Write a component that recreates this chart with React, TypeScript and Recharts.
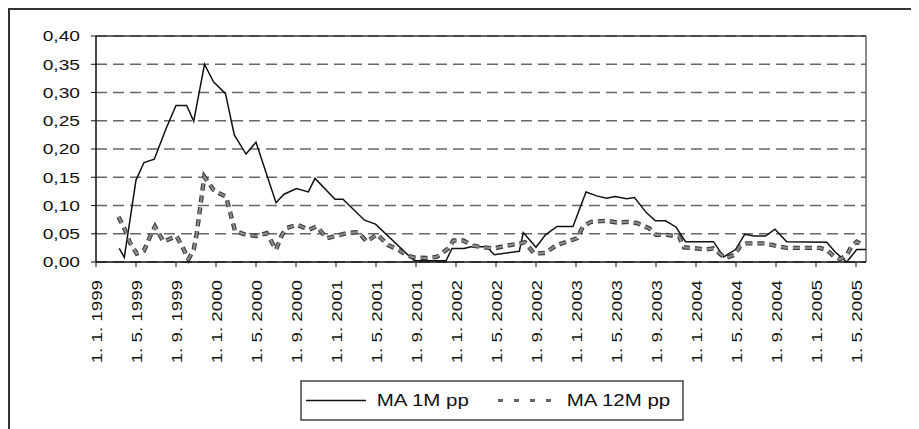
import React from 'react';
import { LineChart, Line, XAxis, YAxis, CartesianGrid, ReferenceLine } from 'recharts';

// Tick labels on the date axis (every 4 months, starting 1. 1. 1999)
const tickLabels = [
  '1. 1. 1999', '1. 5. 1999', '1. 9. 1999',
  '1. 1. 2000', '1. 5. 2000', '1. 9. 2000',
  '1. 1. 2001', '1. 5. 2001', '1. 9. 2001',
  '1. 1. 2002', '1. 5. 2002', '1. 9. 2002',
  '1. 1. 2003', '1. 5. 2003', '1. 9. 2003',
  '1. 1. 2004', '1. 5. 2004', '1. 9. 2004',
  '1. 1. 2005', '1. 5. 2005',
];
const tickMonths = [0, 4, 8, 12, 16, 20, 24, 28, 32, 36, 40, 44, 48, 52, 56, 60, 64, 68, 72, 76];
const yTicks = [0, 0.05, 0.1, 0.15, 0.2, 0.25, 0.3, 0.35, 0.4];

// MA 1M pp  (x = months since 1. 1. 1999)
const ma1mMonths = [
  2.33, 2.83, 4.0, 4.8, 5.83, 7.0, 8.0, 9.07, 9.77, 10.85,
  11.75, 12.95, 13.83, 15.0, 16.0, 18.0, 18.8, 20.05, 21.23, 21.9,
  23.9, 24.7, 26.85, 27.95, 31.83, 35.0, 35.6, 36.8, 37.5, 39.07,
  39.83, 42.33, 42.73, 44.0, 44.95, 46.1, 47.7, 49.0, 50.07, 51.05,
  51.9, 53.07, 53.85, 55.05, 55.95, 56.95, 58.0, 58.95, 61.75, 62.77,
  63.95, 64.87, 65.8, 66.95, 67.9, 69.07, 73.07, 73.9, 75.07, 76.07,
  77.0,
];
const ma1mValues = [
  0.024, 0.008, 0.145, 0.176, 0.182, 0.236, 0.277, 0.277, 0.249, 0.350,
  0.319, 0.298, 0.225, 0.191, 0.212, 0.105, 0.120, 0.130, 0.124, 0.148,
  0.111, 0.111, 0.074, 0.067, 0.002, 0.002, 0.024, 0.024, 0.027, 0.027,
  0.013, 0.019, 0.052, 0.026, 0.048, 0.063, 0.063, 0.124, 0.117, 0.113,
  0.116, 0.112, 0.114, 0.087, 0.073, 0.073, 0.062, 0.036, 0.036, 0.009,
  0.022, 0.049, 0.046, 0.046, 0.058, 0.036, 0.035, 0.018, 0.000, 0.022,
  0.022,
];

// MA 12M pp
const ma12mMonths = [
  2.25, 2.9, 3.4, 4.07, 4.8, 5.4, 5.9, 6.75, 8.05, 8.75,
  9.25, 9.77, 10.07, 10.83, 11.75, 12.5, 13.0, 13.9, 15.0, 16.03,
  17.07, 18.0, 18.6, 19.07, 20.1, 21.3, 22.07, 23.07, 24.0, 25.07,
  26.23, 27.07, 28.1, 29.2, 30.3, 31.07, 31.8, 33.07, 34.07, 35.23,
  35.73, 36.73, 37.7, 38.73, 39.8, 41.07, 42.2, 42.9, 43.8, 44.9,
  46.1, 47.6, 48.1, 48.7, 49.5, 51.07, 52.07, 53.2, 54.07, 55.3,
  56.0, 57.1, 58.3, 58.8, 60.07, 61.0, 61.73, 62.5, 62.95, 63.9,
  64.4, 65.07, 66.9, 68.1, 69.07, 72.4, 73.1, 73.8, 74.4, 75.07,
  75.5, 76.07, 76.6,
];
const ma12mValues = [
  0.080, 0.057, 0.034, 0.015, 0.020, 0.045, 0.063, 0.036, 0.046, 0.023,
  0.005, 0.022, 0.050, 0.151, 0.128, 0.120, 0.116, 0.055, 0.048, 0.046,
  0.051, 0.022, 0.048, 0.060, 0.066, 0.057, 0.063, 0.042, 0.046, 0.051,
  0.053, 0.036, 0.049, 0.030, 0.021, 0.012, 0.008, 0.007, 0.009, 0.024,
  0.038, 0.038, 0.029, 0.026, 0.024, 0.029, 0.032, 0.035, 0.015, 0.016,
  0.030, 0.039, 0.042, 0.063, 0.071, 0.073, 0.070, 0.071, 0.069, 0.060,
  0.048, 0.048, 0.045, 0.026, 0.024, 0.022, 0.024, 0.013, 0.007, 0.013,
  0.028, 0.033, 0.033, 0.028, 0.025, 0.025, 0.021, 0.010, 0.005, 0.012,
  0.026, 0.036, 0.031,
];

const ma1mData = ma1mMonths.map((m, i) => ({ m, v: ma1mValues[i] }));
const ma12mData = ma12mMonths.map((m, i) => ({ m, v: ma12mValues[i] }));

const FONT = '"Liberation Sans", Arial, sans-serif';
const fmt = (v: number) => v.toFixed(2).replace('.', ',');

function YTick(props: any) {
  const { x, y, payload } = props;
  return (
    <g transform={`translate(${x},${y})`}>
      <text transform="scale(1.28,1)" textAnchor="end" dy="0.36em" fontSize={15} fontFamily={FONT} fill="#111">
        {fmt(payload.value)}
      </text>
    </g>
  );
}

function XTick(props: any) {
  const { x, y, payload } = props;
  const idx = Math.round(payload.value / 4);
  return (
    <g transform={`translate(${x + 1},${y}) rotate(-90)`}>
      <text transform="scale(1.25,1)" textAnchor="end" dy="0.36em" fontSize={15} fontFamily={FONT} fill="#111">
        {tickLabels[idx]}
      </text>
    </g>
  );
}

export default function App() {
  return (
    <div style={{ position: 'relative', width: 911, height: 421 }}>
      <style>{'html,body{overflow:hidden}'}</style>
      <div
        style={{
          position: 'absolute', left: 0, top: 0, width: 911, height: 421, boxSizing: 'border-box',
          borderTop: '2px solid #333', borderLeft: '2px solid #333',
        }}
      />
      <div style={{ position: 'absolute', left: 0, top: 0 }}>
        <LineChart width={911} height={421} margin={{ top: 28, right: 53, bottom: 57, left: 28 }}>
          <CartesianGrid vertical={false} stroke="#666" strokeWidth={1.4} strokeDasharray="11 6" />
          <XAxis
            type="number" dataKey="m" domain={[0, 77]} ticks={tickMonths} interval={0}
            height={110} tick={<XTick />} tickSize={5} tickMargin={13}
            axisLine={{ stroke: '#111', strokeWidth: 1.5 }} tickLine={{ stroke: '#111' }}
            allowDataOverflow
          />
          <YAxis
            type="number" domain={[0, 0.4]} ticks={yTicks} interval={0} width={60}
            tick={<YTick />} tickSize={5} tickMargin={11}
            axisLine={{ stroke: '#111', strokeWidth: 1.5 }} tickLine={{ stroke: '#111' }}
          />
          <ReferenceLine y={0.4} stroke="#333" strokeWidth={1.5} />
          <ReferenceLine x={77} stroke="#666" strokeWidth={1.5} />
          <Line data={ma1mData} dataKey="v" type="linear" stroke="#111" strokeWidth={1.5} dot={false} isAnimationActive={false} />
          <Line data={ma12mData} dataKey="v" type="linear" stroke="#3a3a3a" strokeWidth={4.4} strokeDasharray="7 5" dot={false} isAnimationActive={false} />
          <Line data={ma12mData} dataKey="v" type="linear" stroke="#8a8a8a" strokeWidth={2.2} strokeDasharray="7 5" dot={false} isAnimationActive={false} />
        </LineChart>
      </div>
      <svg style={{ position: 'absolute', left: 292, top: 372 }} width={384} height={41}>
        <rect x={1} y={1} width={382} height={39} fill="#fff" stroke="#444" strokeWidth={1.5} />
        <line x1={6} x2={66} y1={20.5} y2={20.5} stroke="#111" strokeWidth={1.5} />
        <text transform="translate(76.7,26) scale(1.28,1)" fontSize={16} fontFamily={FONT} fill="#111">MA 1M pp</text>
        <line x1={198} x2={256} y1={20.5} y2={20.5} stroke="#666" strokeWidth={3} strokeDasharray="5 11" />
        <text transform="translate(266.7,26) scale(1.28,1)" fontSize={16} fontFamily={FONT} fill="#111">MA 12M pp</text>
      </svg>
    </div>
  );
}
